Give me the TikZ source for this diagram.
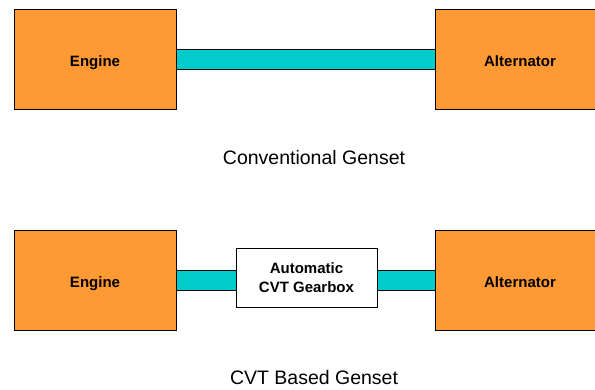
\documentclass[tikz,border=0pt]{standalone}
\usepackage{fontspec}
\setmainfont{Liberation Sans}
\usepackage{xcolor}
\usetikzlibrary{positioning}

\definecolor{boxorange}{HTML}{FF9933}
\definecolor{shaftcyan}{HTML}{00CCCC}

\begin{document}
\begin{tikzpicture}[x=1pt,y=-1pt,
    unit/.style={rectangle,draw=black,line width=1pt,fill=boxorange,minimum width=162pt,minimum height=100pt,font=\fontsize{15pt}{18pt}\selectfont\bfseries,inner sep=0pt,text height=15pt,text depth=0pt},
    gear/.style={rectangle,draw=black,line width=1pt,fill=white,minimum width=141pt,minimum height=59pt,font=\fontsize{15pt}{19pt}\selectfont\bfseries,align=center,inner sep=0pt},
    shaft/.style={line width=1pt,draw=black,double=shaftcyan,double distance=19pt},
    caption/.style={font=\fontsize{19.5pt}{22pt}\selectfont}]
    \useasboundingbox (0,0) rectangle (595,389);
    % Conventional genset
    \node[unit] (engA) at (95,59) {Engine};
    \node[unit,minimum width=170pt] (altA) at (520,59) {Alternator};
    \draw[shaft] (engA.east) -- (altA.west);
    \node[caption] (capA) at (314,158) {Conventional Genset};
    % CVT based genset
    \node[unit] (engB) at (95,280) {Engine};
    \node[unit,minimum width=170pt] (altB) at (520,280) {Alternator};
    \node[gear] (gbox) at (306.5,277.5) {Automatic\\CVT Gearbox};
    \draw[shaft] (engB.east) -- (engB.east -| gbox.west);
    \draw[shaft] (gbox.east |- altB.west) -- (altB.west);
    \node[caption] (capB) at (314,378) {CVT Based Genset};
\end{tikzpicture}
\end{document}
